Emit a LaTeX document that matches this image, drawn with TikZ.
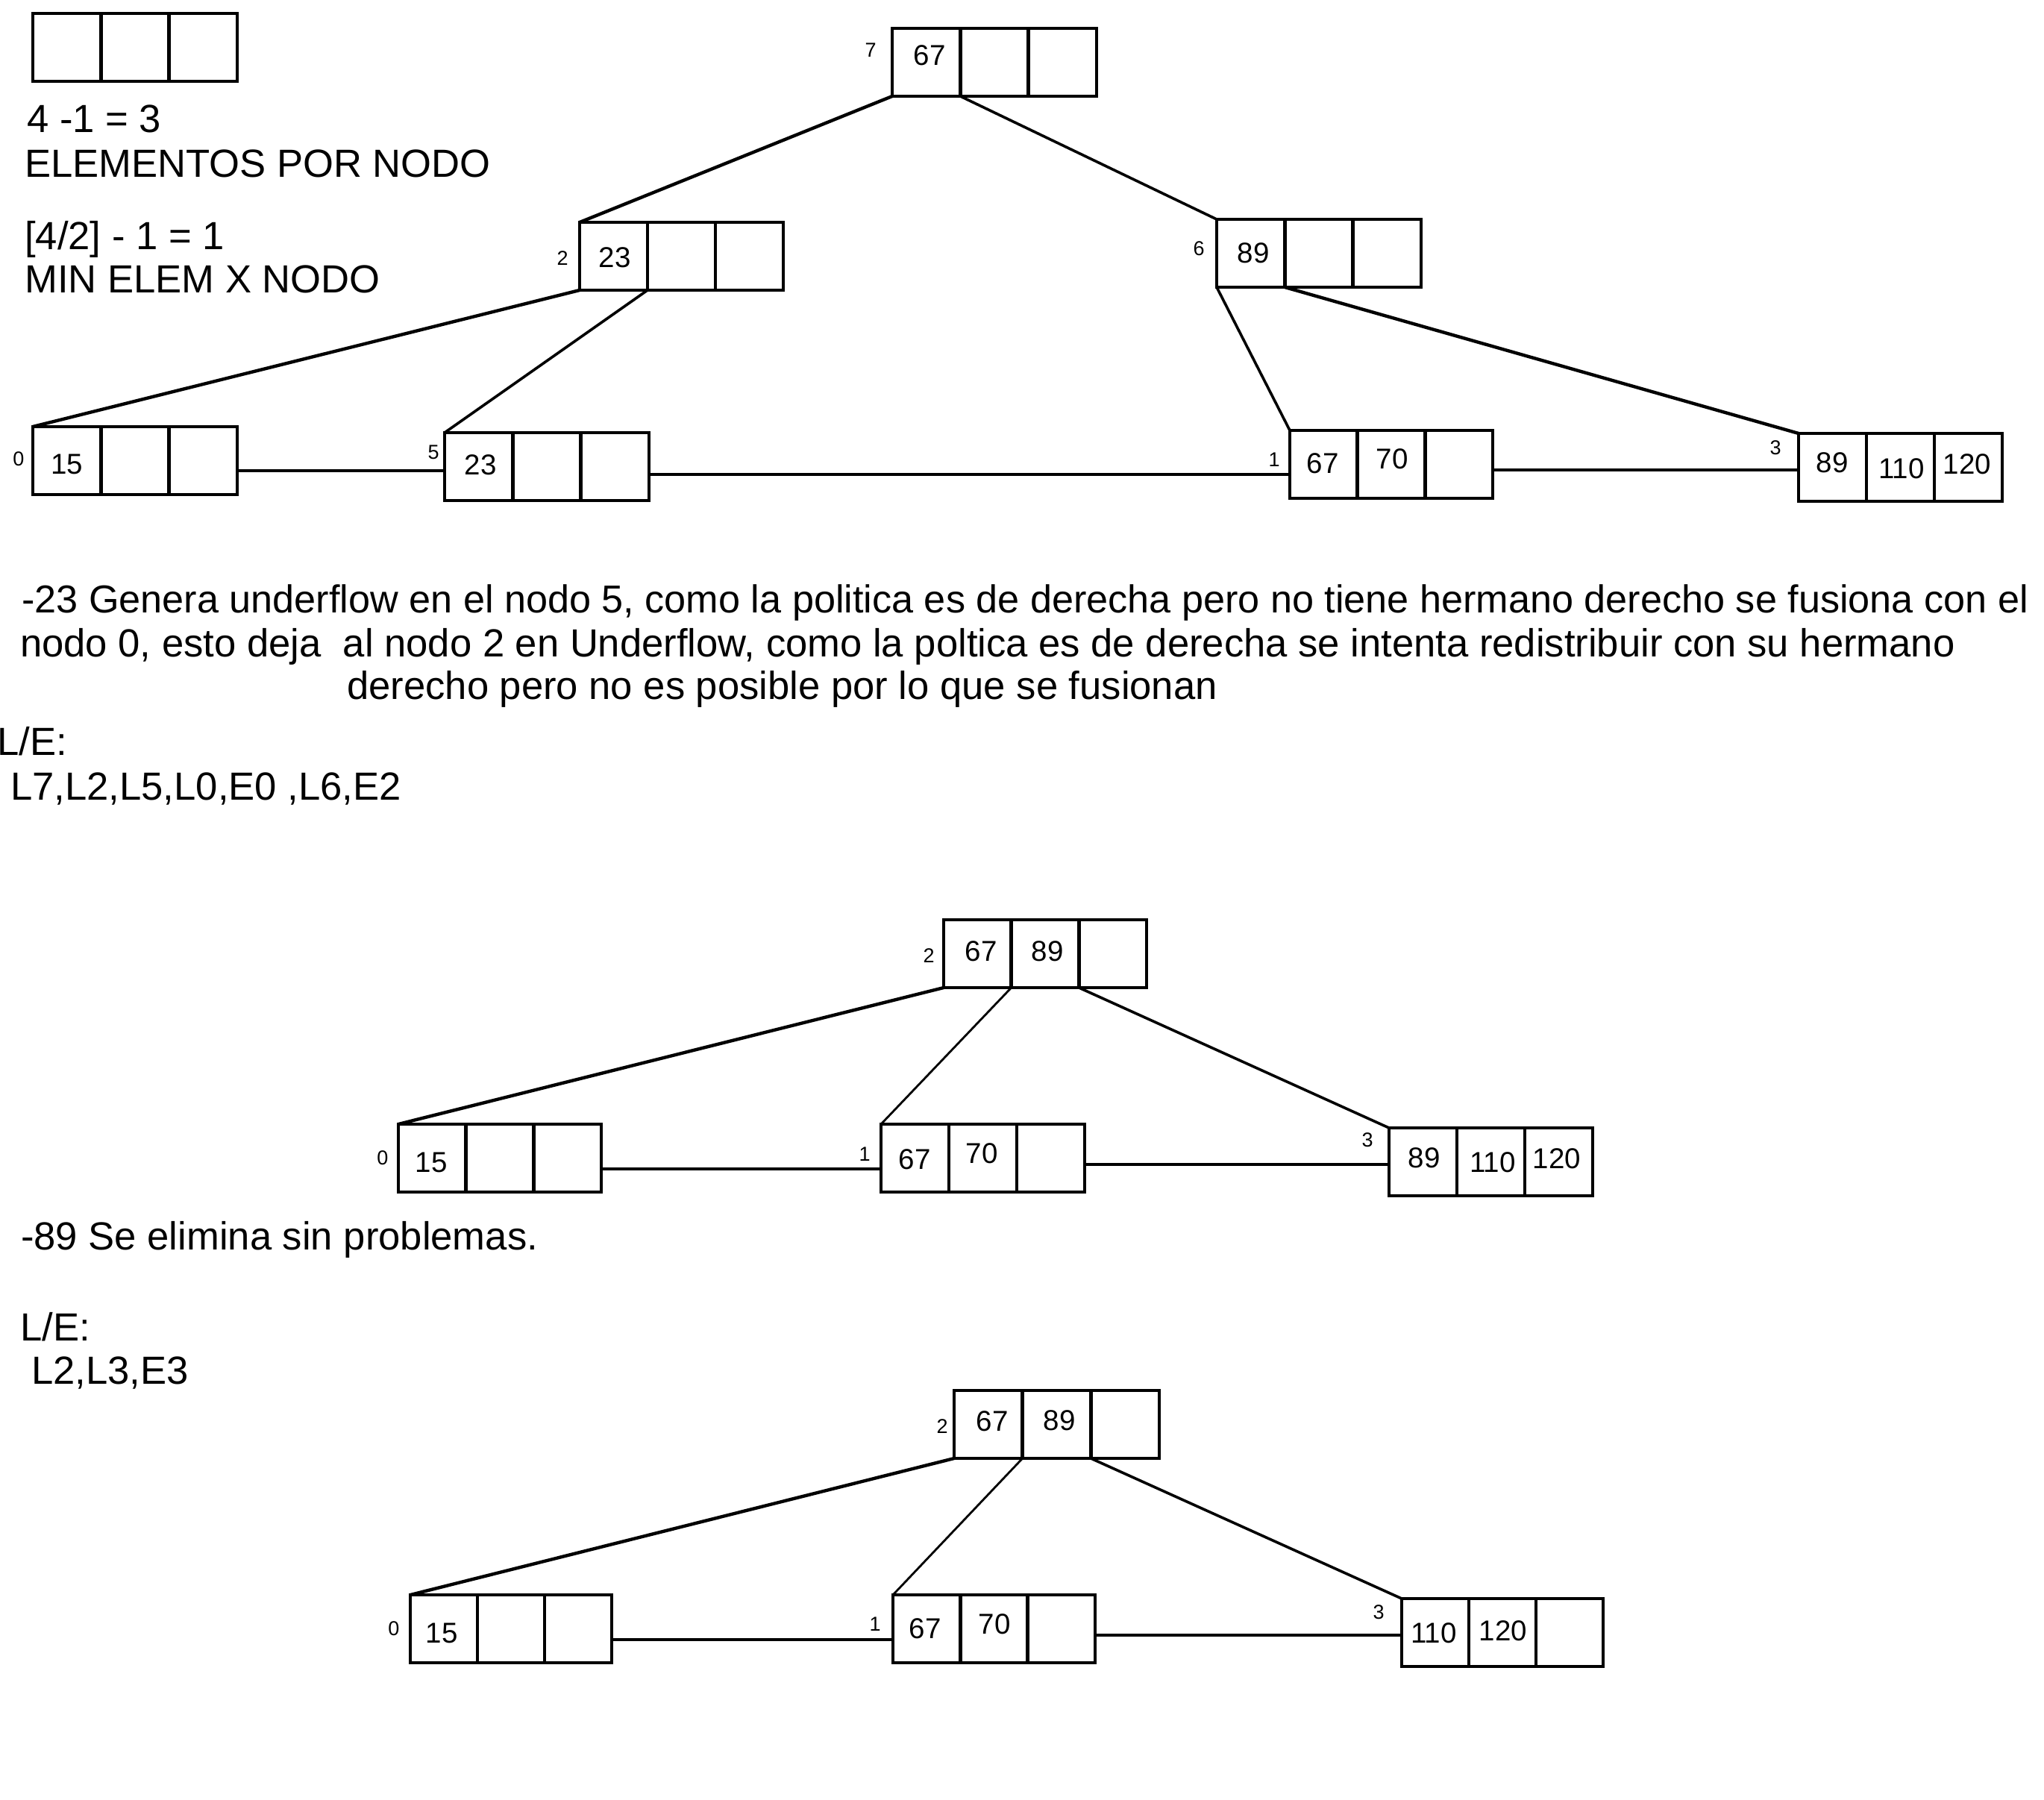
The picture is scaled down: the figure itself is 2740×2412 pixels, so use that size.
\documentclass[tikz,border=0pt]{standalone}
\usepackage{fontspec}
\setmainfont{Liberation Sans}
\usetikzlibrary{calc}

% A B-tree page with three key slots; defines the bottoms of the two dividers
\newcommand{\keybox}[4]{%
  \node[keybox, minimum width=#4pt] (#1) at (#2,#3) {};
  \coordinate (#1-d1) at ($(#1.south west)!1/3!(#1.south east)$);
  \coordinate (#1-d2) at ($(#1.south west)!2/3!(#1.south east)$);
  \draw[boxline] ($(#1.north west)!1/3!(#1.north east)$) -- (#1-d1);
  \draw[boxline] ($(#1.north west)!2/3!(#1.north east)$) -- (#1-d2);
}

\begin{document}
\begin{tikzpicture}[x=1pt, y=-1pt,
  boxline/.style={line width=4.5pt},
  keybox/.style={draw, rectangle, line width=4.5pt, inner sep=0pt, outer sep=0pt,
                 minimum height=91pt, anchor=north west},
  conn thick/.style={line width=4.4pt},
  conn mid/.style={line width=3.6pt},
  conn thin/.style={line width=2.8pt},
  link/.style={line width=4.5pt},
  big/.style={inner sep=0pt, anchor=base west, font=\fontsize{52.6}{60}\selectfont},
  val/.style={inner sep=0pt, font=\fontsize{38.5}{44}\selectfont},
  idx/.style={inner sep=0pt, font=\fontsize{27}{30}\selectfont}]

\useasboundingbox (0,0) rectangle (2740,2412);
\fill[white] (0,0) rectangle (2740,2412);

% ---------- legend and formulas ----------
\keybox{legend}{44}{18}{274}
\node[big] (f1) at (36,177) {4 -1 = 3};
\node[big] (f2) at (33,237) {ELEMENTOS POR NODO};
\node[big] (f3) at (33,334) {[4/2] - 1 = 1};
\node[big] (f4) at (33,392) {MIN ELEM X NODO};

% ---------- first tree ----------
\keybox{t7}{1196}{38}{274}
\keybox{t2}{777}{298}{273}
\keybox{t6}{1631}{294}{274}
\keybox{t0}{44}{572}{274}
\keybox{t5}{596}{580}{274}
\keybox{t1}{1729}{577}{272}
\keybox{t3}{2411}{581}{273}

\node[idx] (t7-id) at (1167,67) {7};
\node[val] (t7-k1) at (1246,74) {67};
\node[idx] (t2-id) at (754,346) {2};
\node[val] (t2-k1) at (824,345) {23};
\node[idx] (t6-id) at (1607,333) {6};
\node[val] (t6-k1) at (1680,339) {89};
\node[idx] (t0-id) at (25,615) {0};
\node[val] (t0-k1) at (90,622) {15};
\node[idx] (t5-id) at (581,606) {5};
\node[val] (t5-k1) at (644,623) {23};
\node[idx] (t1-id) at (1708,616) {1};
\node[val] (t1-k1) at (1773,621) {67};
\node[val] (t1-k2) at (1866,615) {70};
\node[idx] (t3-id) at (2380,600) {3};
\node[val] (t3-k1) at (2456,620) {89};
\node[val] (t3-k2) at (2549,628) {110};
\node[val] (t3-k3) at (2637,622) {120};

\draw[conn thick] (t7.south west) -- (t2.north west);
\draw[conn mid]   (t7-d1) -- (t6.north west);
\draw[conn thick] (t2.south west) -- (t0.north west);
\draw[conn mid]   (t2-d1) -- (t5.north west);
\draw[conn mid]   (t6.south west) -- (t1.north west);
\draw[conn thick] (t6-d1) -- (t3.north west);

\draw[link] ($(t0.north east)+(0,59)$) -- ($(t5.north west)+(0,51)$);
\draw[link] ($(t5.north east)+(0,56)$) -- ($(t1.north west)+(0,59)$);
\draw[link] ($(t1.north east)+(0,53)$) -- ($(t3.north west)+(0,49)$);

% ---------- explanation ----------
\node[big, font=\fontsize{52.2}{60}\selectfont] (p1) at (29,821) {-23 Genera underflow en el nodo 5, como la politica es de derecha pero no tiene hermano derecho se fusiona con el};
\node[big] (p2) at (27,880) {nodo 0, esto deja\ \ al nodo 2 en Underflow, como la poltica es de derecha se intenta redistribuir con su hermano};
\node[big] (p3) at (465,937) {derecho pero no es posible por lo que se fusionan};
\node[big] (le1) at (-4,1012) {L/E:};
\node[big] (le1s) at (14,1072) {L7,L2,L5,L0,E0 ,L6,E2};

% ---------- second tree ----------
\keybox{m2}{1265}{1233}{272}
\keybox{m0}{534}{1507}{272}
\keybox{m1}{1181}{1507}{273}
\keybox{m3}{1862}{1512}{273}

\node[idx] (m2-id) at (1245,1281) {2};
\node[val] (m2-k1) at (1315,1275) {67};
\node[val] (m2-k2) at (1404,1275) {89};
\node[idx] (m0-id) at (513,1552) {0};
\node[val] (m0-k1) at (578,1558) {15};
\node[idx] (m1-id) at (1159,1547) {1};
\node[val] (m1-k1) at (1226,1554) {67};
\node[val] (m1-k2) at (1316,1546) {70};
\node[idx] (m3-id) at (1833,1528) {3};
\node[val] (m3-k1) at (1909,1552) {89};
\node[val] (m3-k2) at (2001,1558) {110};
\node[val] (m3-k3) at (2087,1553) {120};

\draw[conn thick] (m2.south west) -- (m0.north west);
\draw[conn thin]  (m2-d1) -- (m1.north west);
\draw[conn mid]   (m2-d2) -- (m3.north west);

\draw[link] ($(m0.north east)+(0,60)$) -- ($(m1.north west)+(0,60)$);
\draw[link] ($(m1.north east)+(0,54)$) -- ($(m3.north west)+(0,49)$);

\node[big] (p4) at (28,1675) {-89 Se elimina sin problemas.};
\node[big] (le2) at (27,1797) {L/E:};
\node[big] (le2s) at (42,1855) {L2,L3,E3};

% ---------- third tree ----------
\keybox{b2}{1279}{1864}{275}
\keybox{b0}{550}{2138}{270}
\keybox{b1}{1197}{2138}{271}
\keybox{b3}{1879}{2143}{270}

\node[idx] (b2-id) at (1263,1912) {2};
\node[val] (b2-k1) at (1330,1905) {67};
\node[val] (b2-k2) at (1420,1904) {89};
\node[idx] (b0-id) at (528,2183) {0};
\node[val] (b0-k1) at (592,2189) {15};
\node[idx] (b1-id) at (1173,2177) {1};
\node[val] (b1-k1) at (1240,2183) {67};
\node[val] (b1-k2) at (1333,2177) {70};
\node[idx] (b3-id) at (1848,2161) {3};
\node[val] (b3-k1) at (1922,2189) {110};
\node[val] (b3-k2) at (2015,2186) {120};

\draw[conn thick] (b2.south west) -- (b0.north west);
\draw[conn thin]  (b2-d1) -- (b1.north west);
\draw[conn mid]   (b2-d2) -- (b3.north west);

\draw[link] ($(b0.north east)+(0,60)$) -- ($(b1.north west)+(0,60)$);
\draw[link] ($(b1.north east)+(0,54)$) -- ($(b3.north west)+(0,49)$);

\end{tikzpicture}
\end{document}
